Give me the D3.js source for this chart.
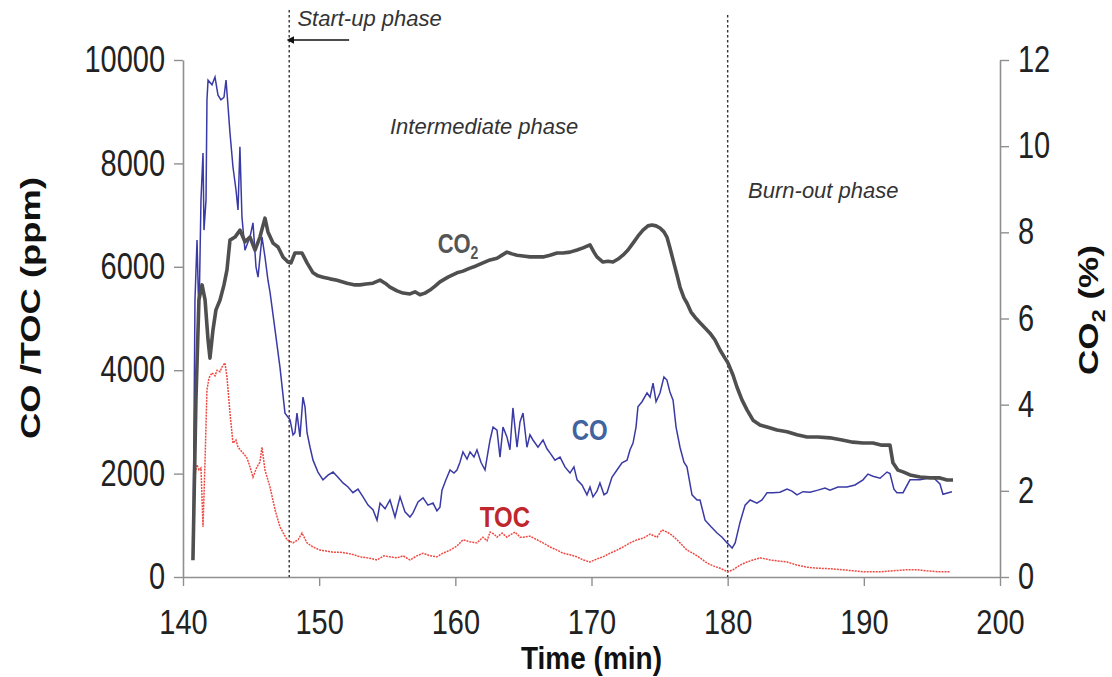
<!DOCTYPE html>
<html>
<head>
<meta charset="utf-8">
<script src="https://cdn.jsdelivr.net/npm/d3@7"></script>
<style>
body { margin: 0; background: #fff; }
svg text { font-family: "Liberation Sans", Arial, sans-serif; }
</style>
</head>
<body>
<div id="app"></div>
<script>
// axis ticks
const timeTicks = [140, 150, 160, 170, 180, 190, 200]
const ppmTicks = [0, 2000, 4000, 6000, 8000, 10000]
const pctTicks = [0, 2, 4, 6, 8, 10, 12]

// phase boundaries (min)
const phaseLines = [147.8, 180.0]

// CO (ppm): [time, value]
const coData = [[140.73,330],[140.88,5360],[141.03,6520],[141.17,4970],[141.32,7290],[141.47,8200],[141.54,6710],[141.69,7290],[141.76,9230],[141.84,9610],[142.13,9520],[142.35,9670],[142.57,9320],[142.79,9230],[143.01,9280],[143.16,9610],[143.30,9130],[143.45,8590],[143.67,7930],[143.89,7490],[144.04,7100],[144.18,8320],[144.33,6960],[144.55,6320],[144.92,6580],[145.14,6850],[145.36,6000],[145.51,5800],[145.80,6580],[146.02,6190],[146.24,5740],[146.39,5510],[146.76,4780],[147.12,4060],[147.49,3170],[147.86,3040],[148.08,2750],[148.22,2790],[148.37,3170],[148.59,2710],[148.81,3480],[148.96,3290],[149.11,2790],[149.33,2510],[149.55,2260],[149.91,2030],[150.28,1880],[150.65,1970],[151.02,2030],[151.38,1930],[151.75,1820],[152.12,1740],[152.48,1630],[152.85,1700],[153.22,1550],[153.59,1390],[153.95,1300],[154.25,1100],[154.47,1430],[154.84,1320],[155.20,1490],[155.57,1160],[155.94,1550],[156.30,1260],[156.67,1160],[156.89,1240],[157.26,1450],[157.63,1530],[157.99,1390],[158.36,1430],[158.65,1280],[158.87,1350],[159.02,1680],[159.31,1880],[159.61,2070],[159.90,2010],[160.12,2070],[160.34,2220],[160.56,2420],[160.86,2280],[161.08,2420],[161.37,2320],[161.59,2460],[161.88,2220],[162.18,2070],[162.40,2420],[162.55,2650],[162.77,2900],[163.06,2840],[163.28,2320],[163.50,2900],[163.79,2710],[164.01,2460],[164.23,3270],[164.53,2510],[164.75,3000],[164.97,3170],[165.26,2510],[165.48,2750],[165.70,2650],[166.07,2510],[166.44,2650],[166.73,2480],[166.95,2400],[167.32,2260],[167.69,2320],[168.05,2130],[168.42,2010],[168.71,2130],[168.94,1880],[169.30,1780],[169.67,1590],[169.89,1740],[170.11,1550],[170.40,1660],[170.62,1820],[170.92,1590],[171.14,1630],[171.50,1930],[171.87,2070],[172.24,2210],[172.61,2260],[172.83,2460],[173.05,2590],[173.27,2900],[173.41,3290],[173.71,3390],[174.08,3560],[174.30,3480],[174.52,3750],[174.74,3390],[175.03,3560],[175.32,3870],[175.54,3810],[175.76,3580],[175.99,3420],[176.21,2900],[176.50,2510],[176.79,2220],[177.01,2130],[177.38,1590],[177.75,1490],[177.97,1490],[178.34,1100],[178.78,970],[179.22,850],[179.59,770],[179.96,660],[180.33,560],[180.55,660],[180.91,1060],[181.28,1390],[181.65,1490],[182.15,1430],[182.52,1490],[182.89,1630],[183.33,1630],[183.84,1640],[184.36,1700],[184.72,1660],[185.09,1590],[185.53,1650],[186.05,1640],[186.63,1680],[187.15,1720],[187.51,1680],[188.10,1740],[188.76,1740],[189.35,1780],[189.94,1880],[190.30,1990],[190.67,1950],[191.19,1910],[191.70,2030],[191.92,2000],[192.21,1700],[192.43,1630],[192.88,1630],[193.39,1880],[194.12,1880],[195.08,1930],[195.59,1800],[195.81,1600],[196.47,1650]]

// CO2 (%) : [time, value]
const co2Data = [[140.73,0.39],[140.95,4.11],[141.17,6.43],[141.40,6.78],[141.62,6.43],[141.84,5.50],[141.98,5.08],[142.20,5.73],[142.42,6.20],[142.72,6.43],[143.01,6.78],[143.23,7.13],[143.45,7.82],[143.82,7.89],[144.19,8.05],[144.55,7.78],[144.92,7.89],[145.29,7.59],[145.65,7.89],[146.02,8.33],[146.24,8.01],[146.61,7.75],[146.98,7.66],[147.34,7.43],[147.71,7.31],[147.93,7.29],[148.22,7.52],[148.74,7.52],[149.11,7.29],[149.55,7.06],[149.91,6.99],[150.28,6.96],[150.80,6.92],[151.31,6.89],[152.04,6.82],[152.63,6.78],[153.00,6.78],[153.44,6.80],[153.95,6.82],[154.47,6.89],[154.84,6.82],[155.20,6.73],[155.72,6.64],[156.16,6.59],[156.67,6.57],[157.04,6.62],[157.40,6.55],[157.77,6.59],[158.14,6.66],[158.51,6.75],[158.87,6.85],[159.46,6.96],[160.12,7.06],[160.56,7.10],[161.08,7.17],[161.52,7.22],[162.03,7.29],[162.55,7.36],[163.06,7.40],[163.43,7.47],[163.79,7.54],[164.16,7.50],[164.53,7.47],[164.97,7.45],[165.48,7.43],[166.00,7.43],[166.44,7.43],[166.95,7.47],[167.47,7.52],[167.91,7.52],[168.42,7.54],[168.94,7.59],[169.38,7.64],[169.89,7.71],[170.18,7.54],[170.40,7.43],[170.84,7.31],[171.21,7.33],[171.58,7.31],[171.95,7.38],[172.31,7.47],[172.68,7.59],[173.05,7.75],[173.41,7.91],[173.78,8.05],[174.15,8.15],[174.44,8.17],[174.74,8.15],[175.03,8.10],[175.32,8.01],[175.54,7.89],[175.76,7.64],[175.99,7.36],[176.28,7.01],[176.50,6.73],[176.79,6.48],[177.01,6.36],[177.31,6.15],[177.60,6.03],[177.97,5.90],[178.34,5.78],[178.70,5.66],[179.07,5.50],[179.44,5.27],[179.80,5.08],[180.02,4.97],[180.39,4.69],[180.68,4.41],[181.05,4.11],[181.42,3.88],[181.86,3.64],[182.37,3.53],[182.89,3.48],[183.62,3.41],[184.36,3.37],[185.09,3.30],[185.83,3.25],[186.63,3.25],[187.51,3.23],[188.40,3.18],[189.20,3.13],[189.94,3.11],[190.67,3.11],[191.33,3.06],[191.92,3.06],[192.14,2.65],[192.51,2.48],[192.88,2.44],[193.39,2.37],[194.12,2.32],[194.86,2.30],[195.59,2.30],[196.11,2.25],[196.55,2.25]]

// TOC (ppm) : [time, value]
const tocData = [[140.73,330],[140.88,1970],[141.03,2170],[141.17,2070],[141.32,2110],[141.47,970],[141.62,2260],[141.76,3620],[141.91,3850],[142.13,3950],[142.35,3890],[142.50,4000],[142.72,3970],[142.86,4060],[143.08,4140],[143.23,3870],[143.45,3170],[143.67,2590],[143.89,2650],[144.04,2510],[144.41,2400],[144.70,2300],[144.92,2130],[145.14,1930],[145.43,2130],[145.65,2220],[145.80,2510],[146.02,2070],[146.39,1740],[146.76,1300],[147.12,970],[147.64,720],[148.08,660],[148.45,720],[148.74,850],[149.11,660],[149.55,580],[150.06,520],[150.58,500],[151.02,480],[151.53,480],[152.04,460],[152.56,430],[153.00,390],[153.59,370],[154.25,330],[154.76,410],[155.20,390],[155.72,370],[156.16,410],[156.67,330],[157.18,410],[157.63,460],[158.14,410],[158.65,390],[159.09,460],[159.61,520],[160.12,600],[160.56,720],[161.08,680],[161.59,660],[162.03,770],[162.33,700],[162.55,870],[162.84,830],[163.06,770],[163.43,850],[163.79,770],[164.01,810],[164.38,870],[164.75,770],[164.97,770],[165.48,790],[166.00,720],[166.44,660],[166.95,580],[167.47,520],[167.91,460],[168.42,430],[168.94,390],[169.38,330],[169.89,290],[170.40,350],[170.84,390],[171.36,460],[171.87,520],[172.31,580],[172.83,660],[173.34,720],[173.78,750],[174.30,830],[174.81,770],[175.18,910],[175.54,870],[175.91,810],[176.28,720],[176.65,620],[177.01,520],[177.45,460],[177.97,370],[178.48,270],[178.99,210],[179.44,170],[180.02,100],[180.39,140],[180.68,190],[181.05,250],[181.42,290],[181.86,330],[182.37,370],[182.81,350],[183.11,330],[183.70,310],[184.36,290],[185.09,230],[185.83,190],[186.63,170],[187.51,160],[188.40,140],[189.20,120],[190.08,100],[191.19,100],[192.14,120],[193.17,140],[193.90,140],[194.64,120],[195.59,100],[196.33,100]]

const width = 1112
const height = 677
const plot = { left: 183, right: 1000, top: 60, bottom: 577 }
const stretch = 1.25 // the source figure is slightly taller than wide

const svg = d3.select('#app').append('svg')
  .attr('width', width)
  .attr('height', height)

const x = d3.scaleLinear().domain([140, 200]).range([plot.left, plot.right])
const yL = d3.scaleLinear().domain([0, 10000]).range([plot.bottom, plot.top])
const yR = d3.scaleLinear().domain([0, 12]).range([plot.bottom, plot.top])

function styleAxis(g, s) {
  g.select('.domain').attr('stroke', '#8f8f8f').attr('stroke-width', 1.6)
  g.selectAll('.tick line').attr('stroke', '#8f8f8f').attr('stroke-width', 1.4)
  g.selectAll('.tick text')
    .attr('fill', '#222')
    .attr('font-size', 29)
    .attr('transform', `scale(1,${s})`)
}

// axes
svg.append('g')
  .attr('transform', `translate(0,${plot.bottom})`)
  .call(d3.axisBottom(x).tickValues(timeTicks).tickSize(9).tickSizeOuter(0).tickPadding(19))
  .call(styleAxis, 1.18)

svg.append('g')
  .attr('transform', `translate(${plot.left},0)`)
  .call(d3.axisLeft(yL).tickValues(ppmTicks).tickSize(9).tickSizeOuter(0).tickPadding(9).tickFormat(d3.format('d')))
  .call(styleAxis, stretch)

svg.append('g')
  .attr('transform', `translate(${plot.right},0)`)
  .call(d3.axisRight(yR).tickValues(pctTicks).tickSize(9).tickSizeOuter(0).tickPadding(9))
  .call(styleAxis, stretch)

// phase boundaries
svg.selectAll('.phase')
  .data(phaseLines)
  .enter()
  .append('line')
  .attr('x1', d => x(d))
  .attr('x2', d => x(d))
  .attr('y1', (d, i) => i === 0 ? 10 : 15)
  .attr('y2', plot.bottom)
  .attr('stroke', '#333')
  .attr('stroke-width', 1.4)
  .attr('stroke-dasharray', '2.5,2.5')

// lines
const lineL = d3.line().x(d => x(d[0])).y(d => yL(d[1]))
const lineR = d3.line().x(d => x(d[0])).y(d => yR(d[1]))

svg.append('path')
  .datum(tocData)
  .attr('d', lineL)
  .attr('fill', 'none')
  .attr('stroke', '#ee4a44')
  .attr('stroke-width', 1.5)
  .attr('stroke-dasharray', '2,1')

svg.append('path')
  .datum(coData)
  .attr('d', lineL)
  .attr('fill', 'none')
  .attr('stroke', '#3a3aa6')
  .attr('stroke-width', 1.5)

svg.append('path')
  .datum(co2Data)
  .attr('d', lineR)
  .attr('fill', 'none')
  .attr('stroke', '#4f4f4f')
  .attr('stroke-width', 3.6)
  .attr('stroke-linejoin', 'round')

// axis titles
svg.append('text')
  .attr('transform', 'translate(40,308) rotate(-90)')
  .attr('text-anchor', 'middle')
  .attr('font-size', 27)
  .attr('font-weight', 'bold')
  .attr('fill', '#111')
  .attr('textLength', 262)
  .attr('lengthAdjust', 'spacingAndGlyphs')
  .text('CO /TOC (ppm)')

const rightTitle = svg.append('text')
  .attr('transform', 'translate(1098,310) rotate(-90) scale(1.3,1)')
  .attr('text-anchor', 'middle')
  .attr('font-size', 27)
  .attr('font-weight', 'bold')
  .attr('fill', '#111')
rightTitle.append('tspan').text('CO')
rightTitle.append('tspan').attr('font-size', 18).attr('dy', 7).text('2')
rightTitle.append('tspan').attr('dy', -7).text(' (%)')

svg.append('text')
  .attr('transform', `translate(${x(170)},669) scale(1,1.1)`)
  .attr('text-anchor', 'middle')
  .attr('font-size', 28)
  .attr('font-weight', 'bold')
  .attr('fill', '#111')
  .text('Time (min)')

// phase annotations
const annotations = [
  { text: 'Start-up phase', t: 148.4, y: 26 },
  { text: 'Intermediate phase', t: 155.2, y: 134 },
  { text: 'Burn-out phase', t: 181.5, y: 198 }
]
svg.selectAll('.note')
  .data(annotations)
  .enter()
  .append('text')
  .attr('transform', d => `translate(${x(d.t)},${d.y})`)
  .attr('font-size', 22)
  .attr('font-style', 'italic')
  .attr('fill', '#333')
  .text(d => d.text)

svg.append('defs').append('marker')
  .attr('id', 'arrow')
  .attr('viewBox', '0 0 10 10')
  .attr('refX', 1).attr('refY', 5)
  .attr('markerWidth', 5).attr('markerHeight', 5)
  .attr('orient', 'auto-start-reverse')
  .append('path').attr('d', 'M0,0L10,5L0,10z').attr('fill', '#111')

svg.append('line')
  .attr('x1', x(152.2)).attr('x2', x(148.1))
  .attr('y1', 40).attr('y2', 40)
  .attr('stroke', '#111').attr('stroke-width', 1.5)
  .attr('marker-end', 'url(#arrow)')

// series labels
const co2Label = svg.append('text')
  .attr('transform', `translate(${x(158.7)},${yR(7.52)}) scale(1,${stretch})`)
  .attr('font-size', 22).attr('font-weight', 'bold').attr('fill', '#555')
co2Label.append('tspan').text('CO')
co2Label.append('tspan').attr('font-size', 14).attr('dy', 5).text('2')

svg.append('text')
  .attr('transform', `translate(${x(168.55)},${yL(2650)}) scale(1,${stretch})`)
  .attr('font-size', 24).attr('font-weight', 'bold').attr('fill', '#41639e')
  .text('CO')

svg.append('text')
  .attr('transform', `translate(${x(161.8)},${yL(970)}) scale(1,${stretch})`)
  .attr('font-size', 24).attr('font-weight', 'bold').attr('fill', '#c0272d')
  .text('TOC')
</script>
</body>
</html>
